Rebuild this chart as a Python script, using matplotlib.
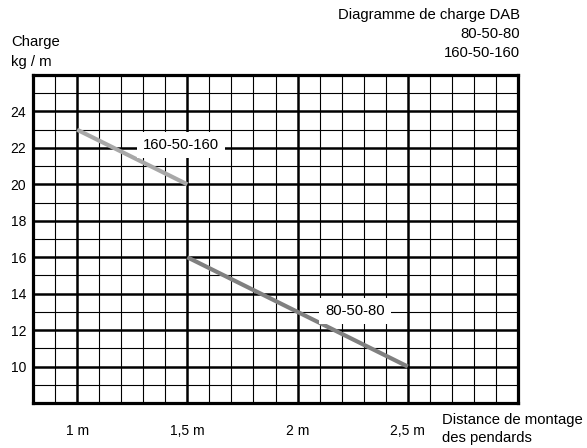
import numpy as np
import matplotlib.pyplot as plt
from matplotlib.ticker import MultipleLocator

plt.rcParams['font.family'] = ['Liberation Sans', 'DejaVu Sans']

# charge curves (distance in m, load in kg/m)
dist_160 = [1.0, 1.5]
load_160 = [23, 20]
dist_80 = [1.5, 2.5]
load_80 = [16, 10]

x_ticks = [1.0, 1.5, 2.0, 2.5]
x_labels = ['1 m', '1,5 m', '2 m', '2,5 m']
y_ticks = [10, 12, 14, 16, 18, 20, 22, 24]

fig = plt.figure(figsize=(5.87, 4.48), dpi=100)
ax = fig.add_axes([0.0562, 0.1004, 0.8263, 0.7321])
ax.set_xlim(0.8, 3.0)
ax.set_ylim(8, 26)

ax.set_xticks(x_ticks)
ax.set_xticklabels(x_labels)
ax.set_yticks(y_ticks)
ax.xaxis.set_minor_locator(MultipleLocator(0.1))
ax.yaxis.set_minor_locator(MultipleLocator(1))
ax.tick_params(which='both', length=0)
ax.tick_params(axis='x', pad=15, labelsize=10)
ax.tick_params(axis='y', pad=5, labelsize=10)

ax.grid(which='minor', color='black', lw=0.8)
ax.grid(which='major', color='black', lw=1.8)
ax.set_axisbelow(True)
for s in ax.spines.values():
    s.set_linewidth(2.3)

ax.plot(dist_160, load_160, color='#a8a8a8', lw=3.0, solid_capstyle='butt', zorder=3)
ax.plot(dist_80, load_80, color='#808080', lw=3.0, solid_capstyle='butt', zorder=3)

box = dict(boxstyle='square,pad=0.4', fc='white', ec='none')
ax.text(1.47, 22.15, '160-50-160', ha='center', va='center', fontsize=10.7, bbox=box, zorder=4)
ax.text(2.26, 13.05, '80-50-80', ha='center', va='center', fontsize=10.7, bbox=box, zorder=4)

fig.text(11/587, 1 - 52/448, 'Charge\nkg / m', ha='left', va='center', fontsize=10.7, linespacing=1.5)
fig.text(520/587, 1 - 34/448, 'Diagramme de charge DAB\n80-50-80\n160-50-160',
         ha='right', va='center', multialignment='right', fontsize=10.7, linespacing=1.45)
fig.text(442/587, 1 - 429/448, 'Distance de montage\ndes pendards', ha='left', va='center',
         fontsize=10.7, linespacing=1.3)

fig.savefig('out.png', dpi=100)
